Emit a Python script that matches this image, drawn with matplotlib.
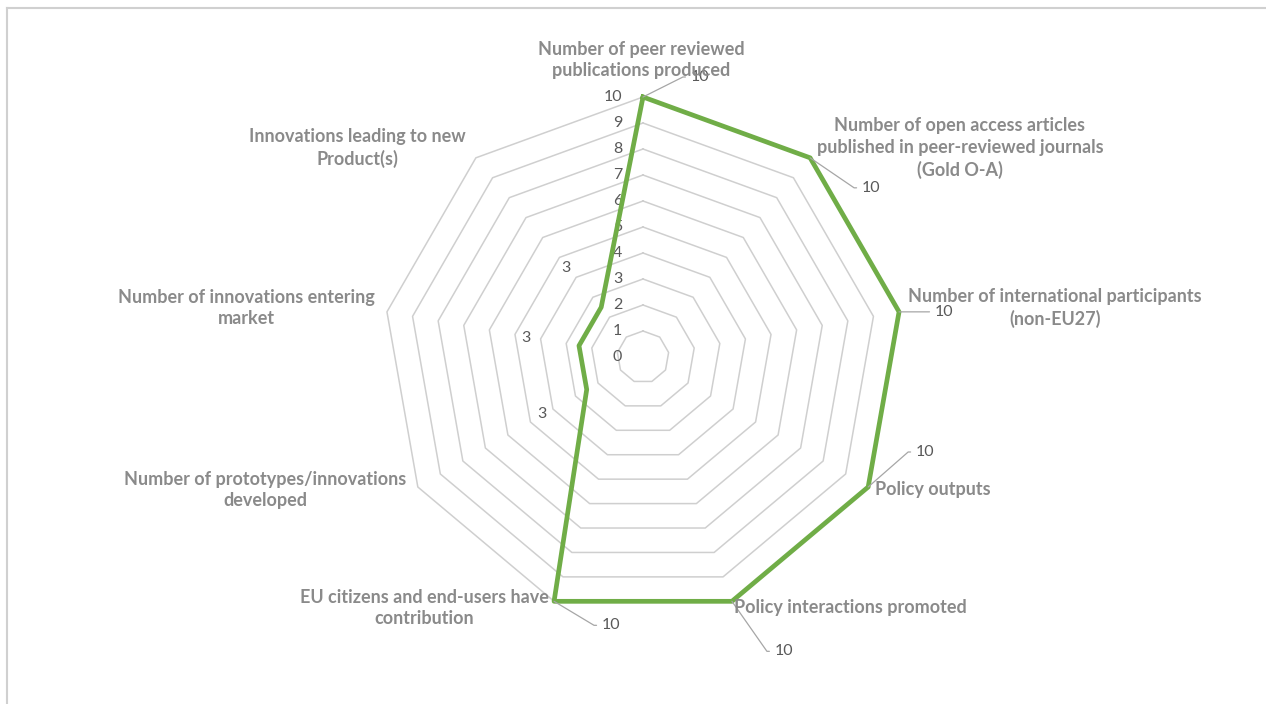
import numpy as np
import matplotlib
matplotlib.use("Agg")
import matplotlib.pyplot as plt
from matplotlib.lines import Line2D

# data
categories = [
    "Number of peer reviewed\npublications produced",
    "Number of open access articles\npublished in peer-reviewed journals\n(Gold O-A)",
    "Number of international participants\n(non-EU27)",
    "Policy outputs",
    "Policy interactions promoted",
    "EU citizens and end-users have\ncontribution",
    "Number of prototypes/innovations\ndeveloped",
    "Number of innovations entering\nmarket",
    "Innovations leading to new\nProduct(s)",
]
values = [10, 10, 10, 10, 10, 10, 2.5, 2.5, 2.5]
ticks = list(range(0, 11))

# layout (pixels in a 1266x704 canvas)
W, H = 1266, 704
cx, cy, R = 643, 357, 260
cat_pos = [(641, 60), (960, 148), (1055, 308), (933, 489), (850, 608),
           (424, 608), (265, 490), (246, 308), (357, 148)]
# data label offsets in pixels (dx, dy down) and whether a leader line is drawn
lab_off = [(48, -20), (52, 30), (36, 0), (48, -35), (43, 50),
           (48, 24), (-45, 25), (-53, -8), (-35, -39)]
leader = [True] * 6 + [False] * 3
TICK_PX = 8  # short horizontal piece of each leader line

GREEN = "#70ad47"
GRID = "#cfcfcf"
CAT_COL = "#8a8a8a"
TXT_COL = "#595959"
plt.rcParams["font.family"] = ["Lato", "DejaVu Sans"]

fig = plt.figure(figsize=(W / 100, H / 100), dpi=100)
fig.patch.set_facecolor("white")

ax = fig.add_axes([(cx - R) / W, (H - cy - R) / H, 2 * R / W, 2 * R / H],
                  projection="polar")
ax.set_theta_offset(np.pi / 2)
ax.set_theta_direction(-1)
ax.set_ylim(0, 10)
ax.grid(False)
ax.set_xticks([])
ax.set_yticks([])
ax.spines["polar"].set_visible(False)
ax.patch.set_alpha(0)

n = len(categories)
ang = np.linspace(0, 2 * np.pi, n, endpoint=False)
ang_c = np.append(ang, ang[0])

# ring gridlines
for t in ticks[1:]:
    ax.plot(ang_c, [t] * (n + 1), color=GRID, lw=1.1, clip_on=False, zorder=1)

# tick labels along the top axis
for t in ticks:
    ax.annotate(str(t), xy=(0, t), xytext=(-15, 0), textcoords="offset points",
                ha="right", va="center", fontsize=11.5, color=TXT_COL, zorder=2)

# series
vals_c = values + [values[0]]
ax.plot(ang_c, vals_c, color=GREEN, lw=3.4, solid_joinstyle="round",
        clip_on=False, zorder=3)

# data labels
for a, v, (dx, dy), ld in zip(ang, values, lab_off, leader):
    txt = str(int(np.floor(v + 0.5)))
    off = (dx * 0.72, -dy * 0.72)
    if ld:
        if dy == 0:
            cs = "arc3"
        else:
            angB = np.degrees(np.arctan2(-dy, dx - TICK_PX))
            cs = "angle,angleA=0,angleB=%.1f,rad=0" % angB
        ax.annotate(txt, xy=(a, v), xytext=off,
                    textcoords="offset points", ha="left", va="center",
                    fontsize=11.5, color=TXT_COL, zorder=4,
                    arrowprops=dict(arrowstyle="-", color="#a6a6a6", lw=0.9,
                                    shrinkA=2, shrinkB=0, relpos=(0, 0.5),
                                    connectionstyle=cs))
    else:
        ax.annotate(txt, xy=(a, v), xytext=off,
                    textcoords="offset points", ha="center", va="center",
                    fontsize=11.5, color=TXT_COL, zorder=4)

# category labels
for lab, (px, py) in zip(categories, cat_pos):
    fig.text(px / W, 1 - py / H, lab, ha="center", va="center",
             fontsize=13, fontweight="bold", color=CAT_COL,
             linespacing=1.35, zorder=5)

# chart frame (top and left edges visible)
fig.add_artist(Line2D([7 / W, 1], [1 - 8 / H, 1 - 8 / H], color="#d0d0d0", lw=1.5))
fig.add_artist(Line2D([7 / W, 7 / W], [0, 1 - 8 / H], color="#d0d0d0", lw=1.5))

fig.savefig("out.png", dpi=100, facecolor="white")
